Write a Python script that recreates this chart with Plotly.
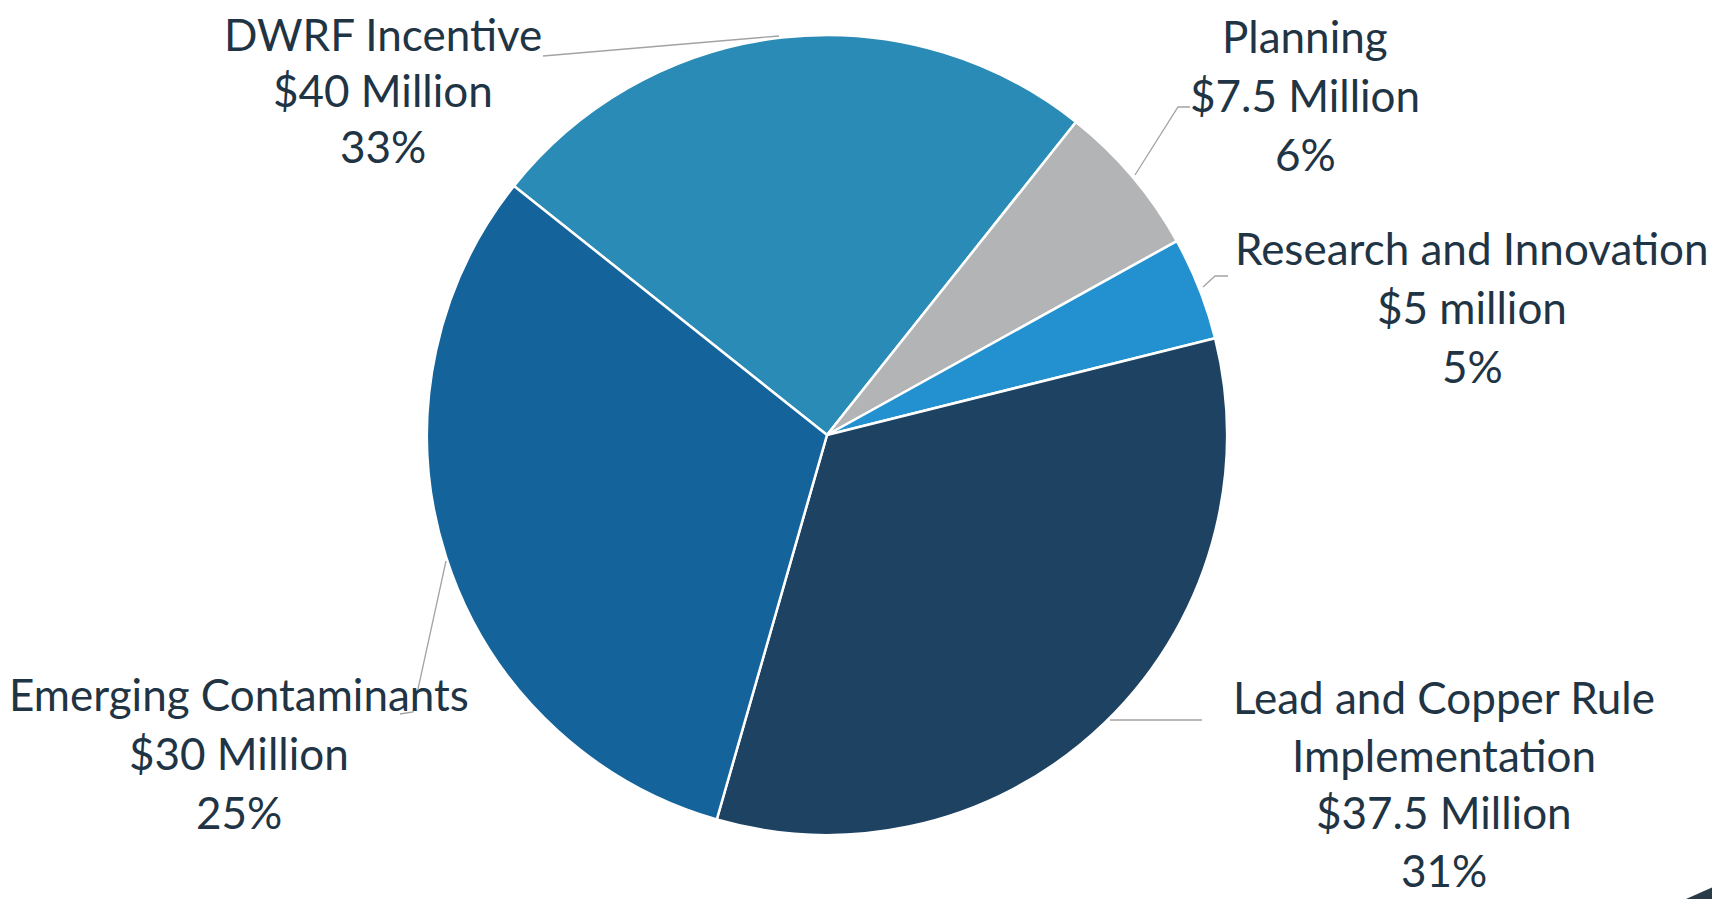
import plotly.graph_objects as go

# Slice data (slice sizes as drawn in the picture)
categories = ["DWRF Incentive", "Planning", "Research and Innovation",
              "Lead and Copper Rule", "Emerging Contaminants"]
category_line2 = ["", "", "", "Implementation", ""]
slice_values = [30, 7.5, 5, 40, 37.5]
amount_labels = ["$40 Million", "$7.5 Million", "$5 million", "$37.5 Million", "$30 Million"]
percent_labels = ["33%", "6%", "5%", "31%", "25%"]
colors = ["#2A8CB6", "#B3B4B6", "#2391CF", "#1E4262", "#15639B"]

W, H = 1720, 899
OFF = 8  # page body margin
cx, cy, r = 827, 435, 400

fig = go.Figure()
fig.add_trace(go.Pie(
    labels=[c + " " + l2 for c, l2 in zip(categories, category_line2)],
    values=slice_values, sort=False, direction="clockwise",
    rotation=-51.5, textinfo="none", hoverinfo="skip", showlegend=False,
    marker=dict(colors=colors, line=dict(color="white", width=2.5)),
    domain=dict(x=[(cx - OFF - r) / W, (cx - OFF + r) / W],
                y=[1 - (cy - OFF + r) / H, 1 - (cy - OFF - r) / H]),
))

# label layout (pixels): center x, first line y, line step
label_pos = [(383, 34), (1305, 36), (1472, 248), (1444, 697), (239, 694)]
steps = [56, 59, 59, 57.5, 59]
for cat, l2, amt, pct, (lx, ly), st in zip(categories, category_line2, amount_labels,
                                            percent_labels, label_pos, steps):
    lines = [cat] + ([l2] if l2 else []) + [amt, pct]
    for i, t in enumerate(lines):
        fig.add_annotation(
            text=t, x=lx, y=ly + i * st, xref="x", yref="y",
            showarrow=False, xanchor="center", yanchor="middle", align="center",
            font=dict(family="Lato", size=44, color="#1F3444"),
        )

leaders = [
    [(543, 56), (779, 36)],
    [(1135, 175), (1178, 107), (1190, 107)],
    [(1203, 287), (1215, 276), (1228, 276)],
    [(1110, 720), (1202, 720)],
    [(446, 561), (413, 712), (400, 714)],
]
for pts in leaders:
    path = "M " + " L ".join(f"{x},{y}" for x, y in pts)
    fig.add_shape(type="path", path=path, xref="x", yref="y",
                  line=dict(color="#A3A3A3", width=1.3))

fig.add_shape(type="path", path="M 1686,899 L 1720,884 L 1720,899 Z",
              xref="x", yref="y", fillcolor="#2A3B48", line=dict(width=0))

fig.update_layout(
    width=W, height=H, margin=dict(l=0, r=0, t=0, b=0),
    paper_bgcolor="white", plot_bgcolor="rgba(0,0,0,0)",
    xaxis=dict(range=[OFF, W + OFF], visible=False, domain=[0, 1], fixedrange=True),
    yaxis=dict(range=[H + OFF, OFF], visible=False, domain=[0, 1], fixedrange=True),
)

fig.write_html("out.html")
